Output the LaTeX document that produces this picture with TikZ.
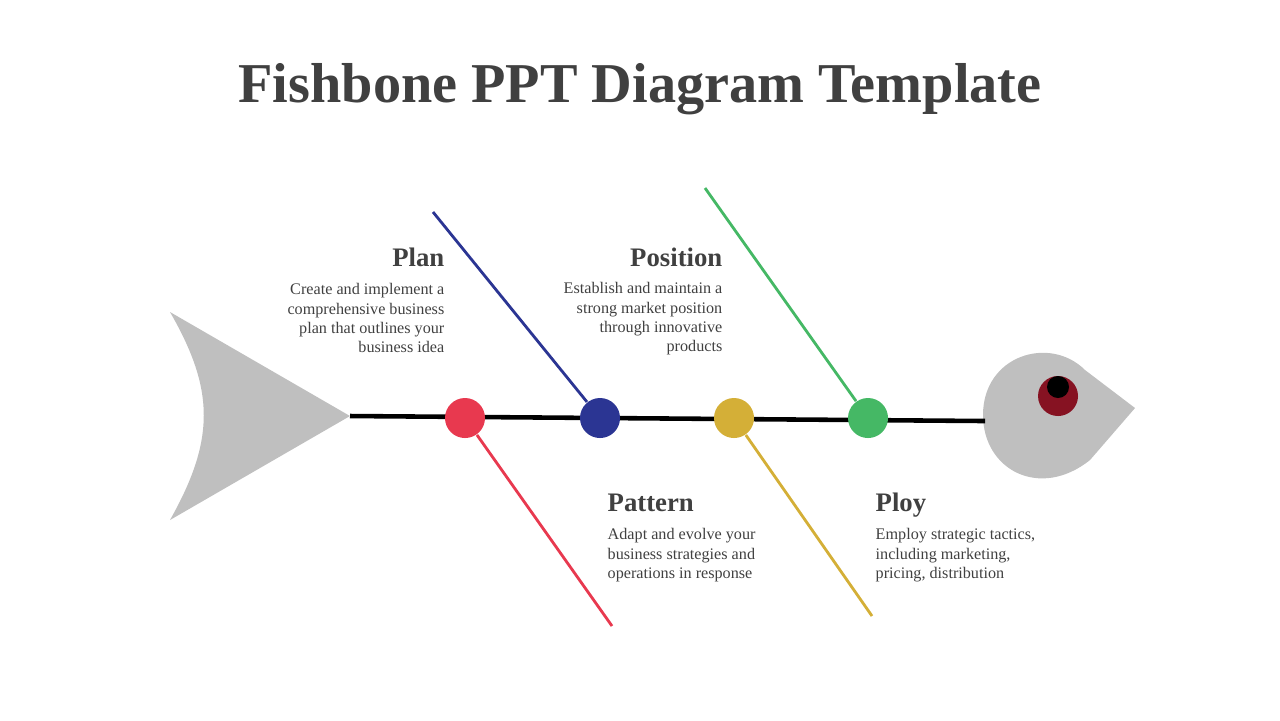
\documentclass[tikz,border=0pt]{standalone}
\usepackage{fontspec}
\setmainfont{Liberation Serif}
\usetikzlibrary{positioning}
\definecolor{txt}{HTML}{404040}
\definecolor{fred}{HTML}{E8394F}
\definecolor{fblue}{HTML}{2B3593}
\definecolor{fyellow}{HTML}{D4AF37}
\definecolor{fgreen}{HTML}{45B865}
\definecolor{bone}{HTML}{BFBFBF}
\definecolor{eye}{HTML}{861222}
\tikzset{
  dot/.style={circle, minimum size=0.4cm, inner sep=0pt},
  head/.style={font=\fontsize{7.6pt}{9pt}\selectfont\bfseries, text=txt, inner sep=0pt},
  desc/.style={font=\fontsize{4.6pt}{5.45pt}\selectfont, text=txt, inner sep=0pt},
  rib/.style={line width=0.8pt}
}
\begin{document}
\begin{tikzpicture}[x=0.01cm,y=-0.01cm]
\useasboundingbox (0,0) rectangle (1280,720);
\node[font=\fontsize{16pt}{18pt}\selectfont\bfseries, text=txt] (title) at (640,89) {Fishbone PPT Diagram Template};

% tail
\fill[bone] (170,312) -- (350,416) -- (170,520) .. controls (215,440) and (215,390) .. cycle;
% head
\fill[bone] (1135,408) -- (1090,460) .. controls (1040,500) and (983,470) .. (983,415)
  .. controls (983,355) and (1050,335) .. (1085,370) -- cycle;
\fill[eye] (1058,396) circle (20);
\fill[black] (1058,387) circle (11);

% spine
\coordinate (tail) at (350,416);
\coordinate (neck) at (985,421);
\draw[line width=1.3pt] (tail) -- (neck);

\node[dot, fill=fred] (p1) at (465,418) {};
\node[dot, fill=fblue] (p2) at (600,418) {};
\node[dot, fill=fyellow] (p3) at (734,418) {};
\node[dot, fill=fgreen] (p4) at (868,418) {};

\coordinate (e1) at (612,626);
\coordinate (e2) at (433,212);
\coordinate (e3) at (872,616);
\coordinate (e4) at (705,188);
\draw[rib, fred] (p1) -- (e1);
\draw[rib, fblue] (p2) -- (e2);
\draw[rib, fyellow] (p3) -- (e3);
\draw[rib, fgreen] (p4) -- (e4);

% texts
\node[head, anchor=base east] (plan) at (445,266) {Plan};
\node[desc, anchor=north east, align=right] (plantxt) at (445,283) {Create and implement a\\comprehensive business\\plan that outlines your\\business idea};
\node[head, anchor=base east] (pos) at (723,266) {Position};
\node[desc, anchor=north east, align=right] (postxt) at (723,282) {Establish and maintain a\\strong market position\\through innovative\\products};
\node[head, anchor=base west] (pat) at (607,511) {Pattern};
\node[desc, anchor=north west, align=left] (pattxt) at (607,528) {Adapt and evolve your\\business strategies and\\operations in response};
\node[head, anchor=base west] (ploy) at (875,511) {Ploy};
\node[desc, anchor=north west, align=left] (ploytxt) at (875,528) {Employ strategic tactics,\\including marketing,\\pricing, distribution};
\end{tikzpicture}
\end{document}
